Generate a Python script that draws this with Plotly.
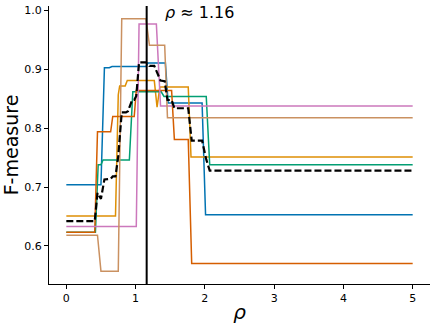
import plotly.graph_objects as go

# rho value of the optimum (vertical line)
rho_opt = 1.16

# per-run F-measure curves (x = rho, y = F-measure)
blue_x = [0, 0.50, 0.55, 0.62, 0.66, 1.15, 1.18, 1.43, 1.47, 1.96, 2.01, 5]
blue_y = [0.704, 0.704, 0.903, 0.903, 0.905, 0.905, 0.911, 0.911, 0.843, 0.843, 0.653, 0.653]

orange_x = [0, 0.71, 0.75, 0.77, 0.85, 0.88, 1.27, 1.31, 1.35, 1.76, 1.80, 5]
orange_y = [0.651, 0.651, 0.857, 0.872, 0.872, 0.881, 0.881, 0.836, 0.870, 0.870, 0.751, 0.751]

green_x = [0, 0.42, 0.46, 0.50, 0.53, 0.91, 0.96, 1.37, 1.41, 2.02, 2.07, 5]
green_y = [0.623, 0.623, 0.738, 0.738, 0.746, 0.746, 0.862, 0.862, 0.854, 0.854, 0.738, 0.738]

red_x = [0, 0.41, 0.45, 0.64, 0.67, 0.98, 1.01, 1.52, 1.56, 1.76, 1.81, 5]
red_y = [0.623, 0.623, 0.794, 0.794, 0.820, 0.820, 0.864, 0.864, 0.781, 0.781, 0.570, 0.570]

pink_x = [0, 1.01, 1.05, 1.30, 1.36, 5]
pink_y = [0.633, 0.633, 0.977, 0.977, 0.838, 0.838]

tan_x = [0, 0.45, 0.50, 0.75, 0.80, 1.15, 1.20, 1.42, 1.46, 5]
tan_y = [0.618, 0.618, 0.557, 0.557, 0.986, 0.986, 0.941, 0.941, 0.818, 0.818]

# mean curve (black dashed)
mean_x = [0, 0.41, 0.45, 0.50, 0.55, 0.64, 0.67, 0.71, 0.75, 0.80, 0.86, 0.89, 0.95,
          0.98, 1.01, 1.05, 1.15, 1.20, 1.27, 1.31, 1.36, 1.42, 1.46, 1.52, 1.56,
          1.76, 1.81, 1.96, 2.02, 2.07, 5]
mean_y = [0.642, 0.642, 0.690, 0.680, 0.713, 0.714, 0.718, 0.718, 0.753, 0.827, 0.827,
          0.829, 0.848, 0.848, 0.855, 0.912, 0.912, 0.906, 0.906, 0.894, 0.881, 0.880,
          0.848, 0.848, 0.834, 0.834, 0.779, 0.779, 0.747, 0.728, 0.728]

series = [
    (blue_x, blue_y, '#0173B2'),
    (orange_x, orange_y, '#DE8F05'),
    (green_x, green_y, '#029E73'),
    (red_x, red_y, '#D55E00'),
    (pink_x, pink_y, '#CC78BC'),
    (tan_x, tan_y, '#CA9161'),
]

fig = go.Figure()
for xs, ys, c in series:
    fig.add_trace(go.Scatter(x=xs, y=ys, mode='lines', line=dict(color=c, width=1.5),
                             showlegend=False, hoverinfo='skip'))
fig.add_trace(go.Scatter(x=mean_x, y=mean_y, mode='lines',
                         line=dict(color='black', width=2.2, dash='7px,3px'),
                         showlegend=False, hoverinfo='skip'))

# vertical line at the optimum
fig.add_shape(type='line', x0=rho_opt, x1=rho_opt, y0=0, y1=1, xref='x', yref='paper',
              line=dict(color='black', width=2))
fig.add_annotation(x=rho_opt + 0.23, y=0.997, xref='x', yref='y', text='<i>ρ</i> ≈ 1.16',
                   showarrow=False, xanchor='left', yanchor='middle',
                   font=dict(size=16, color='black'))

axis_common = dict(showline=True, linecolor='black', linewidth=1, showgrid=False,
                   zeroline=False, ticks='outside', ticklen=4, tickcolor='black',
                   tickfont=dict(size=11, color='black'), automargin=False)
fig.update_xaxes(range=[-0.25, 5.25], tickvals=[0, 1, 2, 3, 4, 5],
                 title=dict(text='<i>ρ</i>', font=dict(size=20, color='black'), standoff=0),
                 **axis_common)
fig.update_yaxes(range=[0.5352, 1.0078], tickvals=[0.6, 0.7, 0.8, 0.9, 1.0],
                 tickformat='.1f',
                 title=dict(text='F-measure', font=dict(size=19, color='black'), standoff=2),
                 **axis_common)
fig.update_layout(
    width=436, height=327,
    margin=dict(l=49, r=6, t=6, b=43),
    paper_bgcolor='white', plot_bgcolor='white',
    font=dict(family='DejaVu Sans'),
)
fig.write_html("out.html", config={'displayModeBar': False},
               post_script="document.body.style.margin='0';")
